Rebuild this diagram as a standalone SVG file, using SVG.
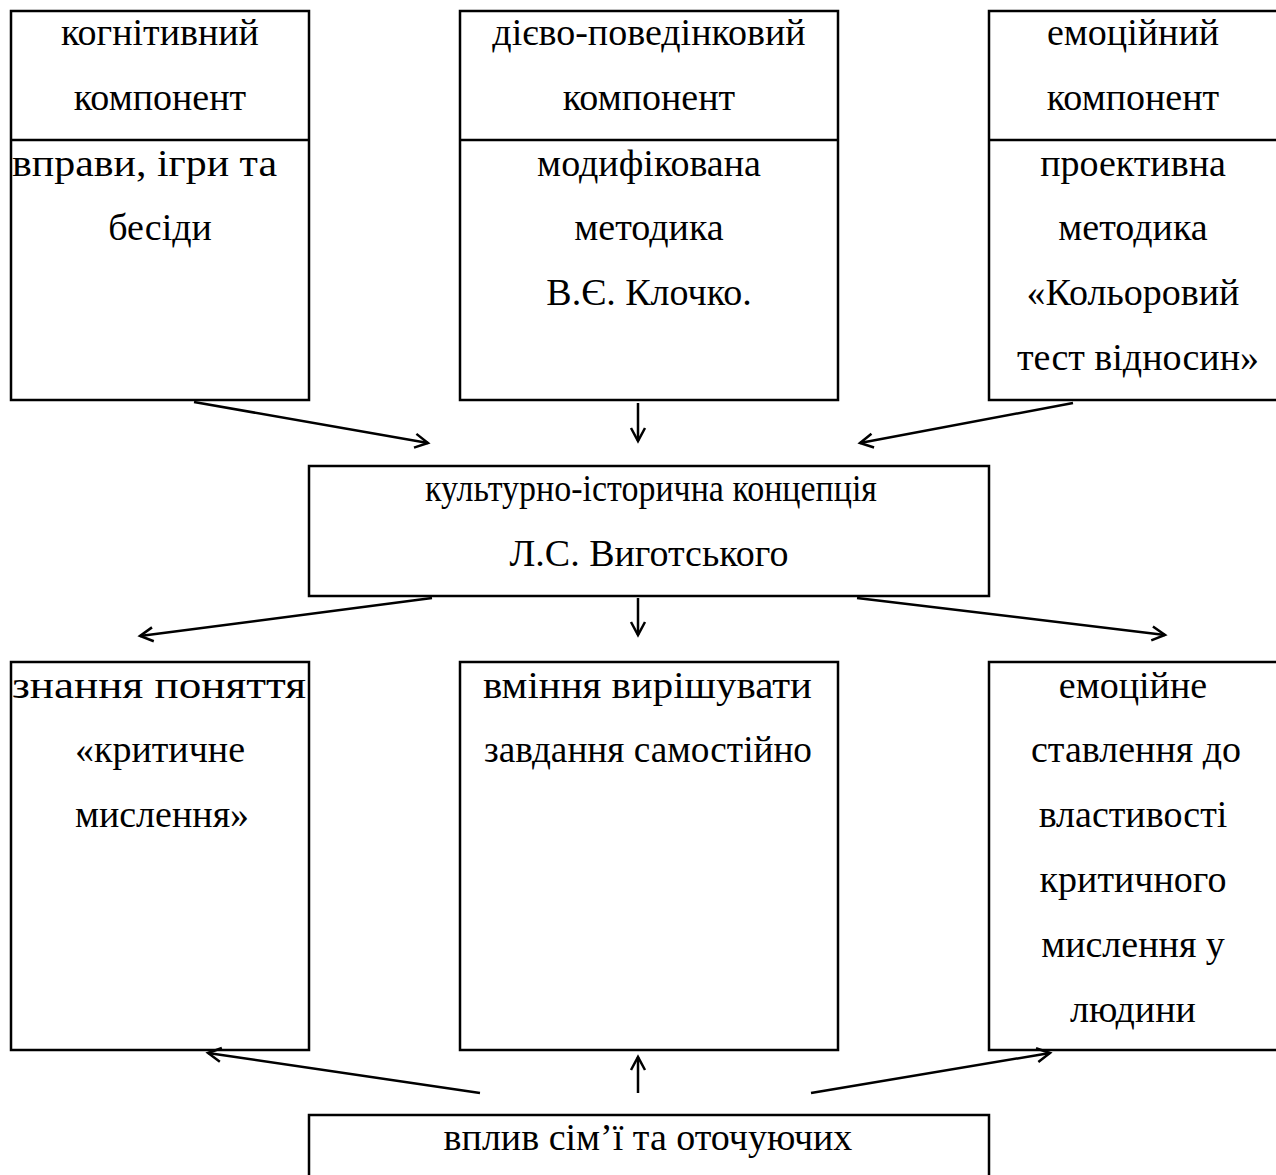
<svg xmlns="http://www.w3.org/2000/svg" width="1276" height="1175" viewBox="0 0 1276 1175">
<style>
.box{fill:#fff;stroke:#000;stroke-width:2.5}
.ln{stroke:#000;stroke-width:2.5;fill:none}
text{font-family:"Liberation Serif","Times New Roman",serif;font-size:38px;fill:#000;text-anchor:middle}
.c{stroke:#000;stroke-width:2.5;fill:none;marker-end:url(#ah)}
</style>
<defs>
<marker id="ah" markerUnits="userSpaceOnUse" markerWidth="30" markerHeight="30" viewBox="-15 -15 30 30" refX="0" refY="0" orient="auto">
<path d="M-13,-7 L0,0 L-13,7" fill="none" stroke="#000" stroke-width="2.5"/>
</marker>
</defs>
<rect width="1276" height="1175" fill="#fff"/>
<g id="node-cognitive">
<rect class="box" x="11" y="11" width="298" height="389"/>
<line class="ln" x1="11" y1="140" x2="309" y2="140"/>
<text x="160" y="45">когнітивний</text>
<text x="160" y="110">компонент</text>
<text x="144.5" y="176" textLength="265" lengthAdjust="spacingAndGlyphs">вправи, ігри та</text>
<text x="160" y="240">бесіди</text>
</g>
<g id="node-behavioral">
<rect class="box" x="460" y="11" width="378" height="389"/>
<line class="ln" x1="460" y1="140" x2="838" y2="140"/>
<text x="649" y="45">дієво-поведінковий</text>
<text x="649" y="110">компонент</text>
<text x="649" y="176">модифікована</text>
<text x="649" y="240">методика</text>
<text x="649" y="305">В.Є. Клочко.</text>
</g>
<g id="node-emotional">
<rect class="box" x="989" y="11" width="290" height="389"/>
<line class="ln" x1="989" y1="140" x2="1279" y2="140"/>
<text x="1133" y="45">емоційний</text>
<text x="1133" y="110">компонент</text>
<text x="1133" y="176">проективна</text>
<text x="1133" y="240">методика</text>
<text x="1133" y="305">«Кольоровий</text>
<text x="1138" y="370">тест відносин»</text>
</g>
<g id="node-concept">
<rect class="box" x="309" y="466" width="680" height="130"/>
<text x="651" y="501" textLength="452" lengthAdjust="spacingAndGlyphs">культурно-історична концепція</text>
<text x="649" y="566">Л.С. Виготського</text>
</g>
<g id="node-knowledge">
<rect class="box" x="11" y="662" width="298" height="388"/>
<text x="159" y="698" textLength="294" lengthAdjust="spacingAndGlyphs">знання поняття</text>
<text x="160" y="762">«критичне</text>
<text x="162" y="827">мислення»</text>
</g>
<g id="node-skill">
<rect class="box" x="460" y="662" width="378" height="388"/>
<text x="647.5" y="698" textLength="329" lengthAdjust="spacingAndGlyphs">вміння вирішувати</text>
<text x="648" y="762" textLength="328" lengthAdjust="spacingAndGlyphs">завдання самостійно</text>
</g>
<g id="node-attitude">
<rect class="box" x="989" y="662" width="290" height="388"/>
<text x="1133" y="698">емоційне</text>
<text x="1136" y="762">ставлення до</text>
<text x="1133" y="827">властивості</text>
<text x="1133" y="892">критичного</text>
<text x="1133" y="957">мислення у</text>
<text x="1133" y="1022">людини</text>
</g>
<g id="node-influence">
<rect class="box" x="309" y="1115" width="680" height="70"/>
<text x="648" y="1150">вплив сім’ї та оточуючих</text>
</g>
<g id="connectors">
<line class="c" x1="194" y1="402" x2="428" y2="443"/>
<line class="c" x1="638" y1="403" x2="638" y2="441"/>
<line class="c" x1="1073" y1="403" x2="860" y2="443"/>
<line class="c" x1="432" y1="598" x2="140" y2="636"/>
<line class="c" x1="638" y1="598" x2="638" y2="635"/>
<line class="c" x1="857" y1="598" x2="1165" y2="635"/>
<line class="c" x1="480" y1="1093" x2="208" y2="1053"/>
<line class="c" x1="638" y1="1093" x2="638" y2="1057"/>
<line class="c" x1="811" y1="1093" x2="1050" y2="1053"/>
</g>
</svg>
